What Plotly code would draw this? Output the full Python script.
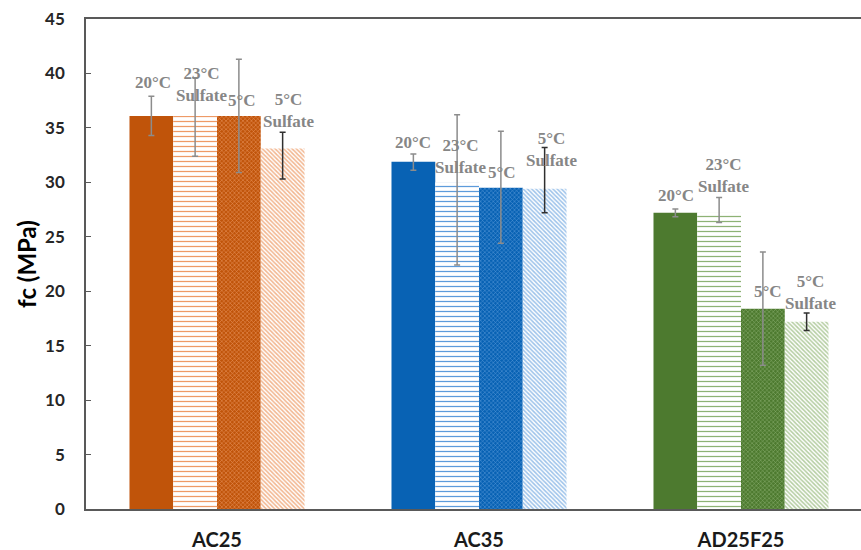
import plotly.graph_objects as go

# Mixes and curing conditions
mixes = ["AC25", "AC35", "AD25F25"]
conditions = ["20°C", "23°C<br>Sulfate", "5°C", "5°C<br>Sulfate"]

# Compressive strength fc (MPa) per condition, one value per mix
fc_20C = [36.1, 31.9, 27.2]
fc_23C_sulfate = [36.1, 30.0, 27.2]
fc_5C = [36.1, 29.5, 18.4]
fc_5C_sulfate = [33.1, 29.4, 17.2]

# Error bar extents above / below the mean (MPa)
err_up_20C = [1.8, 0.7, 0.35]
err_dn_20C = [1.8, 0.8, 0.35]
err_up_23C_sulfate = [3.5, 6.2, 1.4]
err_dn_23C_sulfate = [3.7, 7.6, 0.9]
err_up_5C = [5.2, 5.2, 5.2]
err_dn_5C = [5.2, 5.1, 5.2]
err_up_5C_sulfate = [1.5, 3.8, 0.8]
err_dn_5C_sulfate = [2.8, 2.2, 0.8]

y_ticks = [0, 5, 10, 15, 20, 25, 30, 35, 40, 45]

values = [fc_20C, fc_23C_sulfate, fc_5C, fc_5C_sulfate]
err_up = [err_up_20C, err_up_23C_sulfate, err_up_5C, err_up_5C_sulfate]
err_dn = [err_dn_20C, err_dn_23C_sulfate, err_dn_5C, err_dn_5C_sulfate]

# Styling
dark = ["#C0540A", "#0862B4", "#4D7A2F"]
mid = ["#EE9A66", "#5C9BDB", "#8DB274"]
light = ["#F2B58E", "#9CC2EA", "#B4CDA1"]
err_colors = ["#8C8C8C", "#8C8C8C", "#8C8C8C", "#303030"]

BARGAP = 0.332
bar_w = (1 - BARGAP) / 4

# label offsets (px) from the bar top, per condition and mix
label_dy = [[33, 19, 17], [31, 26, 37], [15, 15, 17], [38, 39, 29]]
label_dx = [[2, 0, 1], [6, 3, 4], [3, 1, 5], [6, 7, 4]]


def pattern_for(cond, mix):
    if cond == 0:
        return dict(shape="", bgcolor=dark[mix])
    if cond == 1:
        return dict(shape="-", bgcolor="white", fgcolor=mid[mix],
                    size=5, solidity=0.25, fillmode="replace")
    if cond == 2:
        return dict(shape="x", bgcolor=dark[mix], fgcolor=mid[mix],
                    size=3, solidity=0.3, fillmode="replace")
    return dict(shape="\\", bgcolor="white", fgcolor=light[mix],
                size=3, solidity=0.5, fillmode="replace")


fig = go.Figure()
annotations = []
for c in range(4):
    for m in range(3):
        # one trace per bar so each mix gets its own colour family
        fig.add_trace(go.Bar(
            x=[mixes[m]], y=[values[c][m]],
            offsetgroup=str(c), legendgroup=str(c),
            showlegend=False,
            marker=dict(color=dark[m] if c in (0, 2) else "white",
                        line=dict(width=0),
                        pattern=pattern_for(c, m)),
            error_y=dict(type="data", symmetric=False,
                         array=[err_up[c][m]], arrayminus=[err_dn[c][m]],
                         color=err_colors[c], thickness=1.5, width=3),
            hoverinfo="skip",
        ))
        annotations.append(dict(
            x=m + (c - 1.5) * bar_w, y=values[c][m], xref="x", yref="y",
            text=f"<b>{conditions[c]}</b>", showarrow=False,
            yanchor="middle", xanchor="center",
            xshift=label_dx[c][m], yshift=label_dy[c][m],
            font=dict(family="Liberation Serif", size=17, color="#868686"),
        ))

fig.update_layout(
    width=861, height=550,
    margin=dict(l=86, r=0, t=19, b=41),
    paper_bgcolor="white", plot_bgcolor="white",
    barmode="group", bargap=BARGAP, bargroupgap=0,
    showlegend=False,
    annotations=annotations,
)
fig.update_xaxes(
    type="category", categoryorder="array", categoryarray=mixes,
    range=[-0.5, 2.458], automargin=False,
    showline=True, linecolor="#595959", linewidth=2, mirror=True,
    ticks="", ticklabelstandoff=12,
    tickfont=dict(family="Lato", size=20, color="#1A1A1A", weight="bold"),
    showgrid=False, zeroline=False,
)
fig.update_yaxes(
    range=[0, 45], tickvals=y_ticks, automargin=False,
    showline=True, linecolor="#595959", linewidth=1.5,
    ticks="inside", ticklen=5, tickcolor="#595959", tickwidth=1,
    ticklabelstandoff=16,
    tickfont=dict(family="Lato", size=17, color="#262626", weight="bold"),
    showgrid=False, zeroline=False,
    title=dict(text="fc (MPa)", standoff=2,
               font=dict(family="Lato", size=24, color="#000000", weight="bold")),
)

fig.write_html("out.html")
